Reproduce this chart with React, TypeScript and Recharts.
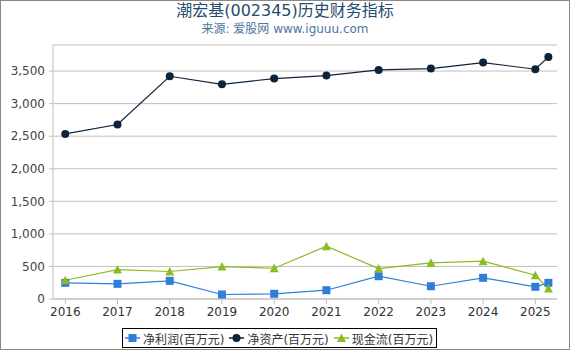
import React from 'react'
import { LineChart, Line, XAxis, YAxis, CartesianGrid, Legend } from 'recharts'

// 报告期 (最后一个点是 2025 年一季度)
const periods = [2016, 2017, 2018, 2019, 2020, 2021, 2022, 2023, 2024, 2025, 2025.25]
const netProfit = [248, 233, 279, 69, 80, 135, 350, 196, 325, 187, 248]
const netAssets = [2535, 2679, 3420, 3297, 3385, 3431, 3517, 3538, 3630, 3528, 3716]
const cashFlow = [288, 452, 422, 498, 472, 810, 468, 555, 580, 365, 161]
const yearTicks = [2016, 2017, 2018, 2019, 2020, 2021, 2022, 2023, 2024, 2025]
const valueTicks = [0, 500, 1000, 1500, 2000, 2500, 3000, 3500]

const data = periods.map((p, i) => ({
  p,
  profit: netProfit[i],
  assets: netAssets[i],
  cash: cashFlow[i],
}))

const FONT = '"DejaVu Sans", "Noto Sans CJK SC", sans-serif'
const C_PROFIT = '#2f7ed8'
const C_ASSETS = '#0d233a'
const C_CASH = '#8bbc21'

const fmt = (v: number) => v.toLocaleString('en-US')

const Square = (props: any) => {
  const { cx, cy, fill } = props
  if (cx == null || cy == null) return null
  return <rect x={cx - 4} y={cy - 4} width={8} height={8} fill={fill} />
}
const Circle = (props: any) => {
  const { cx, cy, fill } = props
  if (cx == null || cy == null) return null
  return <circle cx={cx} cy={cy} r={4} fill={fill} />
}
const Triangle = (props: any) => {
  const { cx, cy, fill } = props
  if (cx == null || cy == null) return null
  return <path d={`M${cx},${cy - 4.5} L${cx + 4.5},${cy + 4} L${cx - 4.5},${cy + 4} Z`} fill={fill} />
}

const legendItems = [
  { name: '净利润(百万元)', color: C_PROFIT, shape: 'square' },
  { name: '净资产(百万元)', color: C_ASSETS, shape: 'circle' },
  { name: '现金流(百万元)', color: C_CASH, shape: 'triangle' },
]

function LegendBox() {
  return (
    <div
      style={{
        display: 'flex',
        alignItems: 'center',
        border: '1px solid #000',
        height: 20,
        boxSizing: 'border-box',
        padding: '0 2px',
        background: '#fff',
        fontFamily: FONT,
        fontSize: 12,
        color: '#333',
        whiteSpace: 'nowrap',
      }}
    >
      {legendItems.map((it, i) => (
        <span
          key={it.name}
          style={{ display: 'flex', alignItems: 'center', marginRight: i < legendItems.length - 1 ? 5 : 1 }}
        >
          <svg width={15} height={10} style={{ marginRight: 3 }}>
            <line x1={0} y1={5} x2={15} y2={5} stroke={it.color} strokeWidth={1.5} />
            {it.shape === 'square' && <rect x={3.5} y={1} width={8} height={8} fill={it.color} />}
            {it.shape === 'circle' && <circle cx={7.5} cy={5} r={4} fill={it.color} />}
            {it.shape === 'triangle' && <path d="M7.5,0.5 L12,9 L3,9 Z" fill={it.color} />}
          </svg>
          {it.name}
        </span>
      ))}
    </div>
  )
}

export default function App() {
  return (
    <div
      style={{
        position: 'absolute',
        left: 0,
        top: 0,
        width: 570,
        height: 350,
        boxSizing: 'border-box',
        border: '1px solid #888',
        background: '#fff',
        fontFamily: FONT,
      }}
    >
      <div
        style={{
          position: 'absolute',
          top: -1,
          left: 0,
          width: 568,
          textAlign: 'center',
          fontSize: 16,
          lineHeight: '22px',
          color: '#274b6d',
        }}
      >
        潮宏基(002345)历史财务指标
      </div>
      <div
        style={{
          position: 'absolute',
          top: 19,
          left: 0,
          width: 568,
          textAlign: 'center',
          fontSize: 12,
          lineHeight: '18px',
          color: '#4d759e',
        }}
      >
        来源: 爱股网 www.iguuu.com
      </div>
      <div style={{ position: 'absolute', left: -1, top: -1 }}>
        <LineChart width={570} height={350} data={data} margin={{ top: 45, right: 13, left: 0, bottom: 21 }}>
          <CartesianGrid vertical={false} stroke="#c0c0c0" />
          <XAxis
            dataKey="p"
            type="number"
            domain={[2015.765, 2025.415]}
            ticks={yearTicks}
            allowDataOverflow
            height={30}
            stroke="#c0c0c0"
            tickSize={5}
            tickMargin={3}
            tick={{ fontSize: 12, fill: '#333', fontFamily: FONT }}
          />
          <YAxis
            type="number"
            domain={[0, 3900]}
            ticks={valueTicks}
            width={53}
            stroke="#c0c0c0"
            tickSize={4}
            tickMargin={4}
            tickFormatter={fmt}
            tick={{ fontSize: 12, fill: '#444', fontFamily: FONT }}
          />
          <Legend
            layout="horizontal"
            verticalAlign="middle"
            align="center"
            content={() => <LegendBox />}
            wrapperStyle={{ position: 'absolute', left: 122, top: 328, width: 'auto' }}
          />
          <Line
            dataKey="profit"
            name="净利润(百万元)"
            stroke={C_PROFIT}
            strokeWidth={1.2}
            fill={C_PROFIT}
            dot={<Square fill={C_PROFIT} />}
            isAnimationActive={false}
          />
          <Line
            dataKey="assets"
            name="净资产(百万元)"
            stroke={C_ASSETS}
            strokeWidth={1.2}
            fill={C_ASSETS}
            dot={<Circle fill={C_ASSETS} />}
            isAnimationActive={false}
          />
          <Line
            dataKey="cash"
            name="现金流(百万元)"
            stroke={C_CASH}
            strokeWidth={1.2}
            fill={C_CASH}
            dot={<Triangle fill={C_CASH} />}
            isAnimationActive={false}
          />
        </LineChart>
      </div>
    </div>
  )
}
